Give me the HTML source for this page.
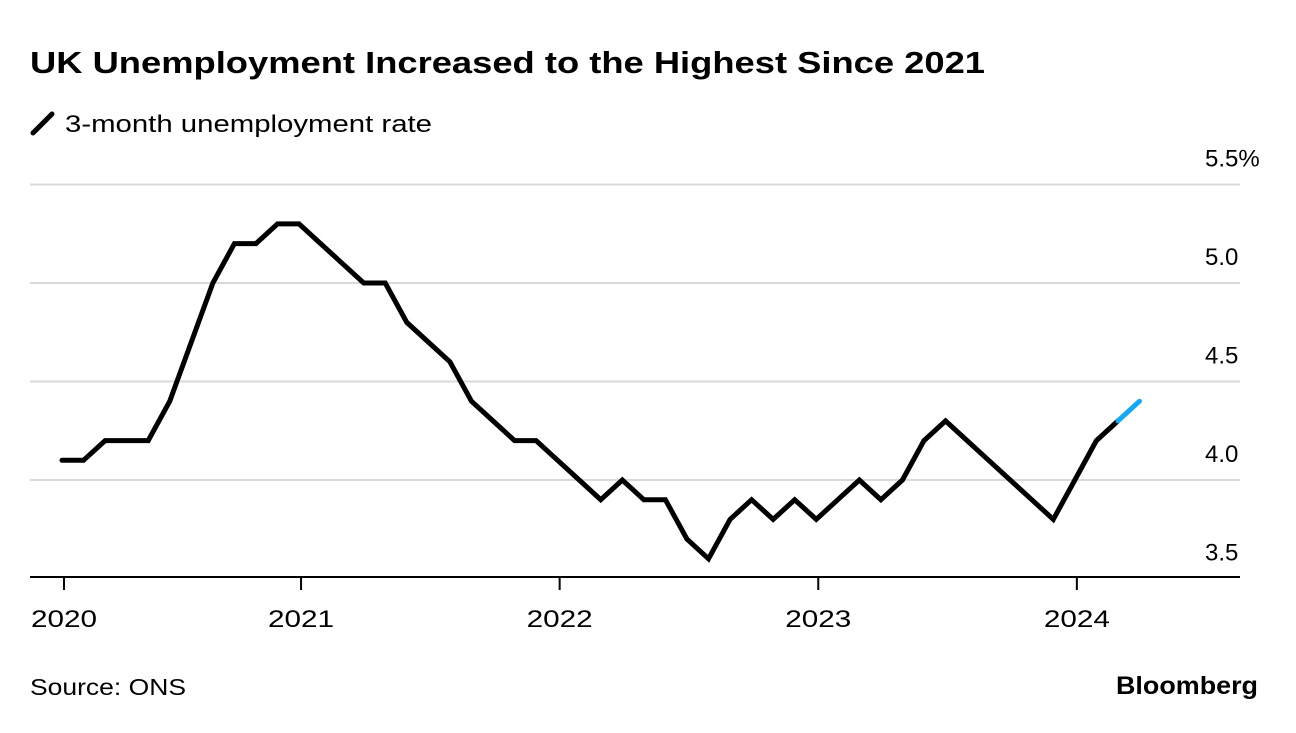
<!DOCTYPE html>
<html><head><meta charset="utf-8"><style>
body{margin:0;background:#fff;width:1296px;height:728px;overflow:hidden;font-family:"Liberation Sans",Arial,sans-serif;}
</style></head><body>
<svg width="1296" height="728" xmlns="http://www.w3.org/2000/svg" font-family="Liberation Sans, Arial, sans-serif">
<text x="30" y="73" font-size="31" font-weight="bold" fill="#000" textLength="955" lengthAdjust="spacingAndGlyphs">UK Unemployment Increased to the Highest Since 2021</text>
<g>
<line x1="33" y1="133" x2="52" y2="114" stroke="#000" stroke-width="5" stroke-linecap="round"/>
<text x="65" y="132" font-size="24" fill="#000" textLength="367" lengthAdjust="spacingAndGlyphs">3-month unemployment rate</text>
</g>
<g id="grid"></g>
<g id="xaxis"></g>
<g id="series"></g>
<text x="30" y="695" font-size="23" fill="#000" textLength="156" lengthAdjust="spacingAndGlyphs">Source: ONS</text>
<text x="1258" y="694" font-size="25" font-weight="bold" text-anchor="end" fill="#000" textLength="142" lengthAdjust="spacingAndGlyphs">Bloomberg</text>
</svg>
<script>
const values = [4.1,4.1,4.2,4.2,4.2,4.4,4.7,5.0,5.2,5.2,5.3,5.3,5.2,5.1,5.0,5.0,4.8,4.7,4.6,4.4,4.3,4.2,4.2,4.1,4.0,3.9,4.0,3.9,3.9,3.7,3.6,3.8,3.9,3.8,3.9,3.8,3.9,4.0,3.9,4.0,4.2,4.3,4.2,4.1,4.0,3.9,3.8,4.0,4.2,4.3,4.4];
const tickLabels = ["2020","2021","2022","2023","2024"];
const tickMonth = [0,11,23,35,47];
const yTicks = [3.5,4.0,4.5,5.0,5.5];
const yTickLabels = ["3.5","4.0","4.5","5.0","5.5%"];
const highlightFrom = 49;
const NS="http://www.w3.org/2000/svg";
const x = i => 62 + i*21.55;
const y = v => 480 - (v-4.0)*197;
function mk(tag, attrs, parent){const e=document.createElementNS(NS,tag);for(const k in attrs)e.setAttribute(k,attrs[k]);parent.appendChild(e);return e;}
const grid=document.getElementById('grid');
yTicks.forEach((v,i)=>{
  if(v>3.5){
    const l=mk('line',{x1:30,x2:1240,y1:y(v),y2:y(v),stroke:'#d9d9d9','stroke-width':2},grid);
    
    
  }
  const t=mk('text',{x:1205,y:y(v)-18,'font-size':24,fill:'#000'},grid);
  t.textContent=yTickLabels[i];
  
  
});
const xa=document.getElementById('xaxis');
const ax=mk('line',{x1:30,x2:1240,y1:577,y2:577,stroke:'#000','stroke-width':2},xa);


tickMonth.forEach((m,i)=>{
  const tk=mk('line',{x1:x(m)+2,x2:x(m)+2,y1:577,y2:590,stroke:'#000','stroke-width':2},xa);
  
  
  const t=mk('text',{x:x(m)+2,y:627,'font-size':24,'text-anchor':'middle',fill:'#000',textLength:66,lengthAdjust:'spacingAndGlyphs'},xa);
  t.textContent=tickLabels[i];
  
  
});
const s=document.getElementById('series');
let d='';
for(let i=0;i<=highlightFrom;i++) d+=(i?'L':'M')+x(i)+','+y(values[i]);
const p=mk('path',{d:d,fill:'none',stroke:'#000','stroke-width':5,'stroke-linejoin':'miter','stroke-linecap':'round'},s);


let d2='';
for(let i=highlightFrom;i<values.length;i++) d2+=(i>highlightFrom?'L':'M')+x(i)+','+y(values[i]);
const p2=mk('path',{d:d2,fill:'none',stroke:'#1aa7f0','stroke-width':5,'stroke-linecap':'round'},s);


</script>
</body></html>
